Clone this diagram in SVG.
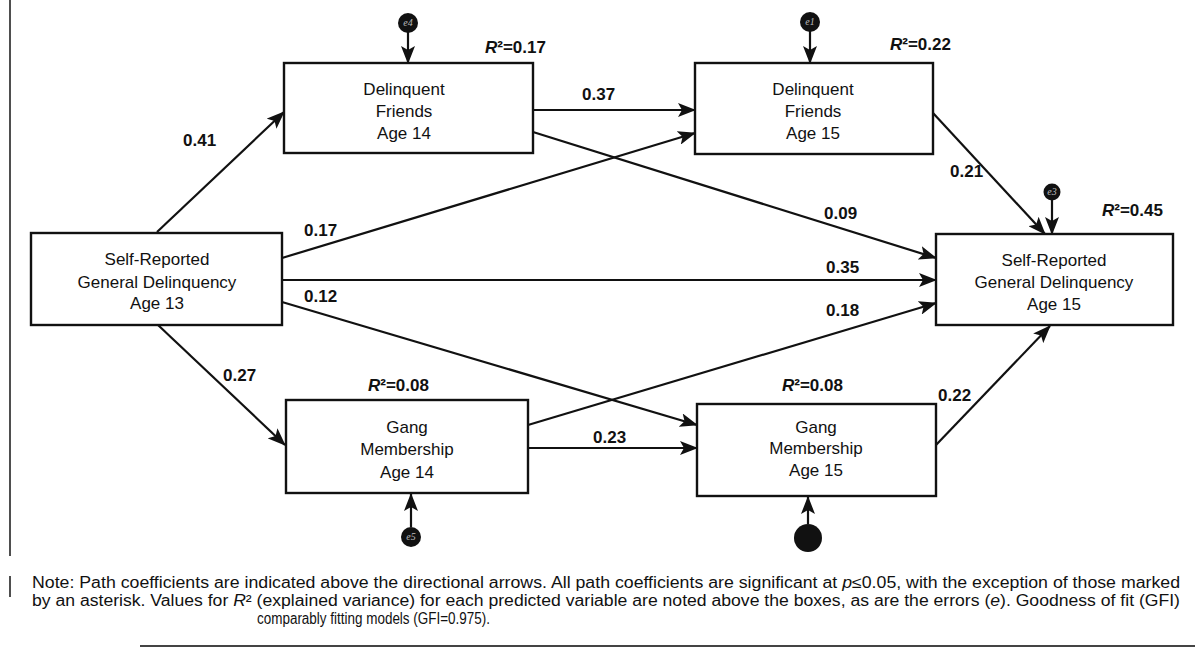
<svg xmlns="http://www.w3.org/2000/svg" width="1195" height="650" viewBox="0 0 1195 650">
<defs>
<marker id="ah" markerUnits="userSpaceOnUse" markerWidth="18" markerHeight="14" viewBox="0 0 18 14" refX="17" refY="7" orient="auto">
<path d="M0,0 L18,7 L0,14 L4,7 Z" fill="#111"/>
</marker>
</defs>
<style>
.box{fill:#fff;stroke:#111;stroke-width:2.4}
.bt{font-family:"Liberation Sans",Arial,sans-serif;font-size:17px;fill:#111;text-anchor:middle}
.cf{font-family:"Liberation Sans",Arial,sans-serif;font-size:17px;font-weight:bold;fill:#111}
.r2{font-family:"Liberation Sans",Arial,sans-serif;font-size:17px;font-weight:bold;fill:#111}
.ln{stroke:#111;stroke-width:2.2;fill:none;marker-end:url(#ah)}
.err{fill:#111}
.et{font-family:"Liberation Serif",serif;font-style:italic;font-size:10px;fill:#bbb;text-anchor:middle}
.note{font-family:"Liberation Sans",Arial,sans-serif;font-size:16px;fill:#111}
</style>
<rect width="1195" height="650" fill="#fff"/>
<line x1="10" y1="0" x2="10" y2="556" stroke="#222" stroke-width="1.6"/>
<line x1="10" y1="576" x2="10" y2="597" stroke="#222" stroke-width="1.6"/>
<line x1="140" y1="646" x2="1195" y2="646" stroke="#444" stroke-width="2"/>

<g id="connectors">
<line class="ln" x1="157" y1="232" x2="284" y2="112"/>
<line class="ln" x1="158" y1="325" x2="285" y2="445"/>
<line class="ln" x1="282" y1="258" x2="695" y2="133"/>
<line class="ln" x1="282" y1="280" x2="936" y2="280"/>
<line class="ln" x1="282" y1="302" x2="697" y2="425"/>
<line class="ln" x1="533" y1="110" x2="695" y2="110"/>
<line class="ln" x1="533" y1="132" x2="936" y2="258"/>
<line class="ln" x1="933" y1="113" x2="1045" y2="234"/>
<line class="ln" x1="528" y1="425" x2="936" y2="303"/>
<line class="ln" x1="528" y1="448" x2="697" y2="448"/>
<line class="ln" x1="936" y1="445" x2="1050" y2="326"/>
<line class="ln" x1="408" y1="32" x2="408" y2="63"/>
<line class="ln" x1="810" y1="31" x2="810" y2="63"/>
<line class="ln" x1="1052" y1="199" x2="1052" y2="234"/>
<line class="ln" x1="411" y1="527" x2="411" y2="494"/>
<line class="ln" x1="808" y1="524" x2="808" y2="497"/>
</g>

<g id="labels">
<text class="cf" x="183" y="146">0.41</text>
<text class="cf" x="223" y="381">0.27</text>
<text class="cf" x="304" y="236">0.17</text>
<text class="cf" x="826" y="273">0.35</text>
<text class="cf" x="304" y="302">0.12</text>
<text class="cf" x="582" y="100">0.37</text>
<text class="cf" x="824" y="219">0.09</text>
<text class="cf" x="950" y="177">0.21</text>
<text class="cf" x="826" y="316">0.18</text>
<text class="cf" x="593" y="443">0.23</text>
<text class="cf" x="938" y="401">0.22</text>
<text class="r2" x="485" y="53"><tspan font-style="italic">R</tspan>²=0.17</text>
<text class="r2" x="890" y="50"><tspan font-style="italic">R</tspan>²=0.22</text>
<text class="r2" x="1102" y="216"><tspan font-style="italic">R</tspan>²=0.45</text>
<text class="r2" x="368" y="391"><tspan font-style="italic">R</tspan>²=0.08</text>
<text class="r2" x="782" y="391"><tspan font-style="italic">R</tspan>²=0.08</text>
</g>

<g id="n-srgd13">
<rect class="box" x="31" y="233" width="251" height="92"/>
<text class="bt" x="157" y="265">Self-Reported</text>
<text class="bt" x="157" y="288">General Delinquency</text>
<text class="bt" x="157" y="309">Age 13</text>
</g>
<g id="n-df14">
<rect class="box" x="284" y="63" width="249" height="90"/>
<text class="bt" x="404" y="95">Delinquent</text>
<text class="bt" x="404" y="117">Friends</text>
<text class="bt" x="404" y="139">Age 14</text>
</g>
<g id="n-df15">
<rect class="box" x="695" y="63" width="238" height="91"/>
<text class="bt" x="813" y="95">Delinquent</text>
<text class="bt" x="813" y="117">Friends</text>
<text class="bt" x="813" y="139">Age 15</text>
</g>
<g id="n-srgd15">
<rect class="box" x="936" y="234" width="237" height="91"/>
<text class="bt" x="1054" y="266">Self-Reported</text>
<text class="bt" x="1054" y="288">General Delinquency</text>
<text class="bt" x="1054" y="310">Age 15</text>
</g>
<g id="n-gang14">
<rect class="box" x="286" y="400" width="242" height="93"/>
<text class="bt" x="407" y="433">Gang</text>
<text class="bt" x="407" y="455">Membership</text>
<text class="bt" x="407" y="478">Age 14</text>
</g>
<g id="n-gang15">
<rect class="box" x="697" y="404" width="239" height="92"/>
<text class="bt" x="816" y="433">Gang</text>
<text class="bt" x="816" y="454">Membership</text>
<text class="bt" x="816" y="476">Age 15</text>
</g>

<g id="e4"><circle class="err" cx="408" cy="23" r="10"/><text class="et" x="408" y="26">e4</text></g>
<g id="e1"><circle class="err" cx="810" cy="22" r="10"/><text class="et" x="810" y="25">e1</text></g>
<g id="e3"><circle class="err" cx="1052" cy="192" r="8.5"/><text class="et" x="1052" y="195">e3</text></g>
<g id="e5"><circle class="err" cx="411" cy="537" r="10"/><text class="et" x="411" y="540">e5</text></g>
<g id="e2"><circle class="err" cx="808" cy="538" r="14"/></g>

<g id="note">
<text class="note" x="32" y="588" textLength="1148" lengthAdjust="spacingAndGlyphs">Note: Path coefficients are indicated above the directional arrows. All path coefficients are significant at <tspan font-style="italic">p</tspan>≤0.05, with the exception of those marked</text>
<text class="note" x="32" y="606" textLength="1148" lengthAdjust="spacingAndGlyphs">by an asterisk. Values for <tspan font-style="italic">R</tspan>² (explained variance) for each predicted variable are noted above the boxes, as are the errors (<tspan font-style="italic">e</tspan>). Goodness of fit (GFI)</text>
<text class="note" x="257" y="624" textLength="233" lengthAdjust="spacingAndGlyphs">comparably fitting models (GFI=0.975).</text>
</g>
</svg>
